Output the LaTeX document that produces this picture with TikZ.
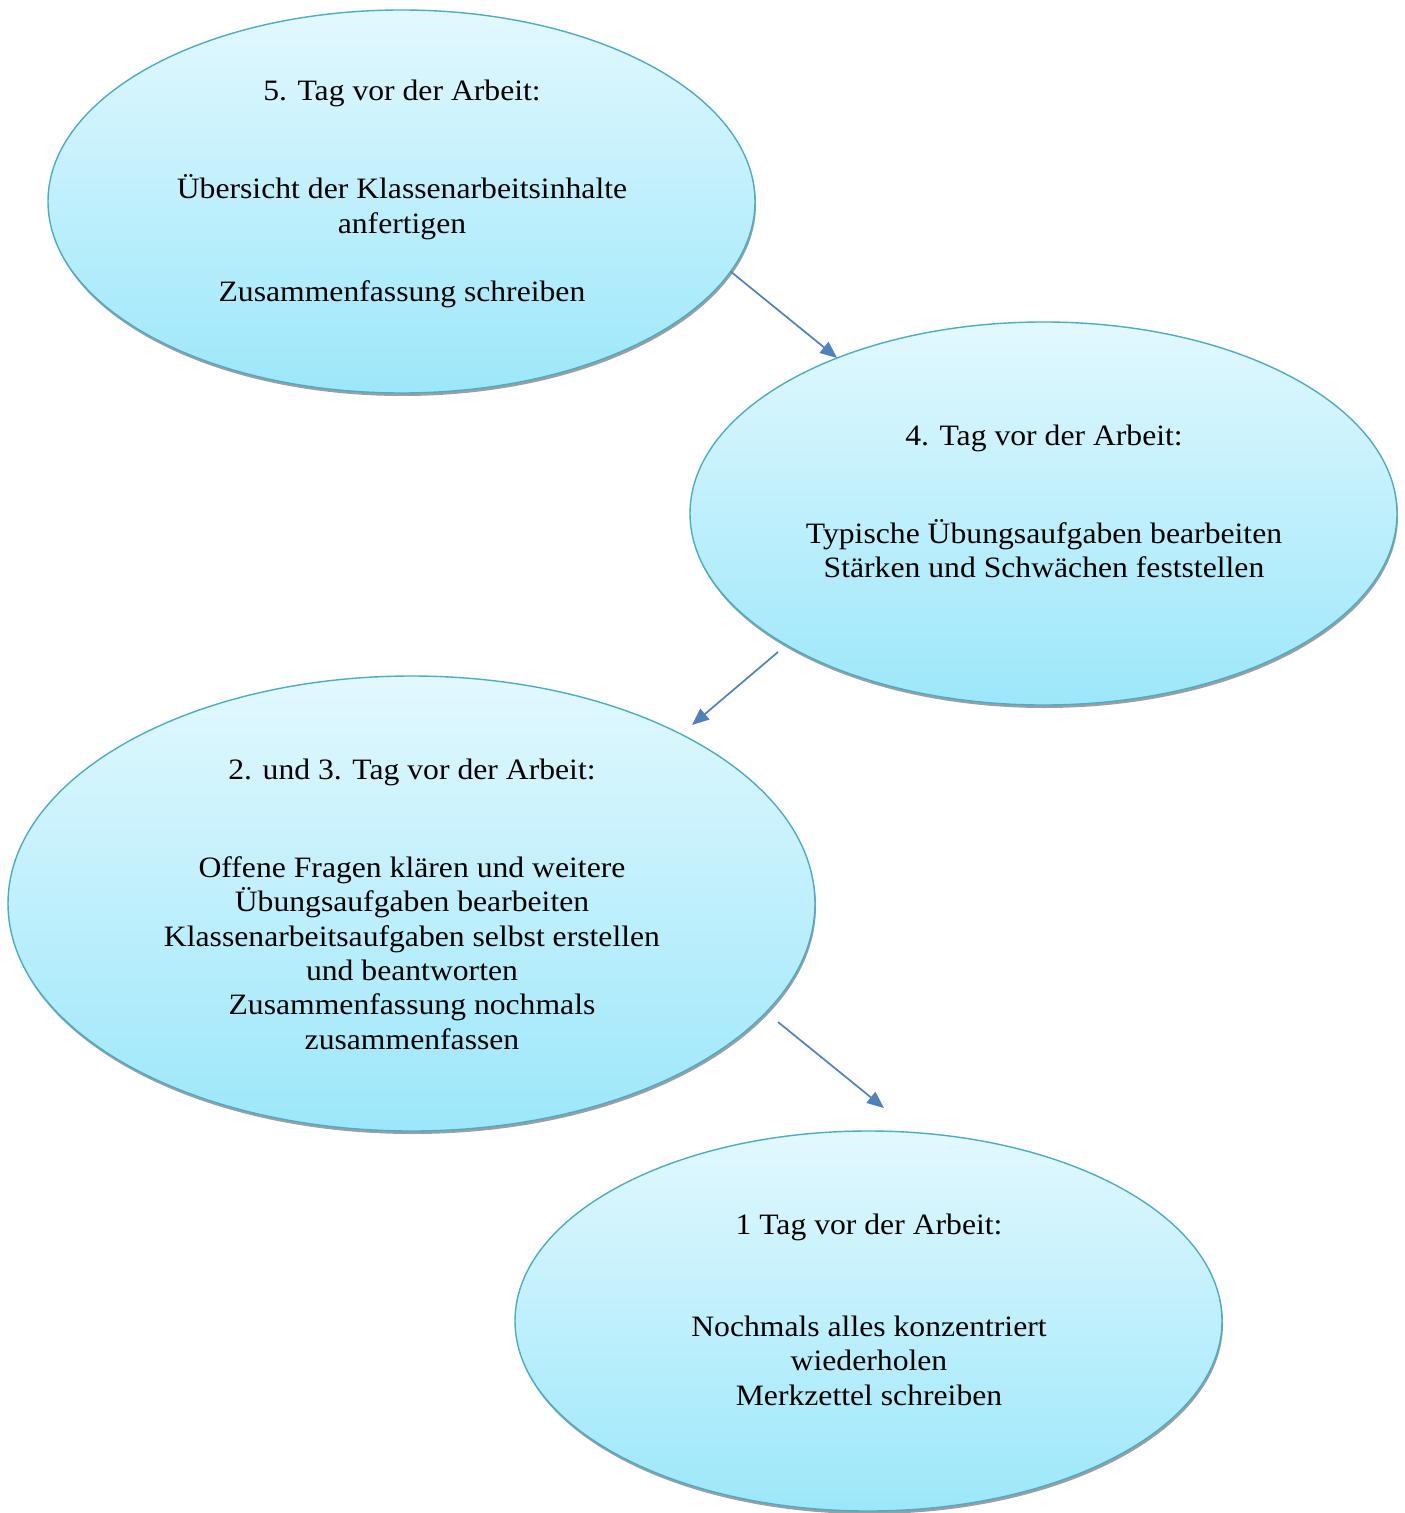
\documentclass[tikz,border=0pt]{standalone}
\usepackage{fontspec}
\setmainfont[FakeStretch=1.07]{Liberation Serif}
\usetikzlibrary{
arrows.meta,
shadows,
shapes.geometric,
}
\definecolor{bubtop}{RGB}{226,248,254}
\definecolor{bubbottom}{RGB}{156,231,250}
\definecolor{bubline}{RGB}{75,172,198}
\definecolor{arrowblue}{RGB}{79,129,189}
\tikzset{
outer sep=0pt,
bubble/.style={ellipse, draw=bubline, line width=0.7pt,
  top color=bubtop, bottom color=bubbottom, inner sep=0pt,
  drop shadow={shadow xshift=0.5pt, shadow yshift=-1.5pt, opacity=1, fill=black!38}},
notes/.style={align=center, inner sep=0pt,
  font=\fontsize{14.8pt}{17.15pt}\selectfont},
>={Triangle[length=8.5pt,width=7pt]},
link/.style={->, draw=arrowblue, line width=0.85pt},
}

\begin{document}
\begin{tikzpicture}[x=0.5pt, y=-0.5pt]
\useasboundingbox (0,0) rectangle (1404,1513);
% the four days
\node (tag5) [bubble, minimum width=353.5pt, minimum height=191.5pt] at (401.5,201.5) {};
\node (tag4) [bubble, minimum width=353.5pt, minimum height=191.5pt] at (1043.5,513.5) {};
\node (tag23) [bubble, minimum width=403.5pt, minimum height=227.5pt] at (411.5,903.5) {};
\node (tag1) [bubble, minimum width=353.5pt, minimum height=190pt] at (868.5,1321) {};
% texts
\node (txt5) [notes] at (402,194) {5. Tag vor der Arbeit:\\[32pt]
    Übersicht der Klassenarbeitsinhalte\\anfertigen\\[17pt]
    Zusammenfassung schreiben};
\node (txt4) [notes] at (1044,501.5) {4. Tag vor der Arbeit:\\[32pt]
    Typische Übungsaufgaben bearbeiten\\Stärken und Schwächen feststellen};
\node (txt23) [notes] at (412,904) {2. und 3. Tag vor der Arbeit:\\[32pt]
    Offene Fragen klären und weitere\\Übungsaufgaben bearbeiten\\
    Klassenarbeitsaufgaben selbst erstellen\\und beantworten\\
    Zusammenfassung nochmals\\zusammenfassen};
\node (txt1) [notes] at (869,1309.5) {1 Tag vor der Arbeit:\\[34pt]
    Nochmals alles konzentriert\\wiederholen\\Merkzettel schreiben};
% arrows
\coordinate (from4) at (778,652);
\coordinate (to23) at (692,725);
\coordinate (from23) at (778,1022);
\coordinate (to1) at (884,1108);
\draw [link] (tag5.-12.6) -- (tag4.143.6);
\draw [link] (from4) -- (to23);
\draw [link] (from23) -- (to1);
\end{tikzpicture}
\end{document}
